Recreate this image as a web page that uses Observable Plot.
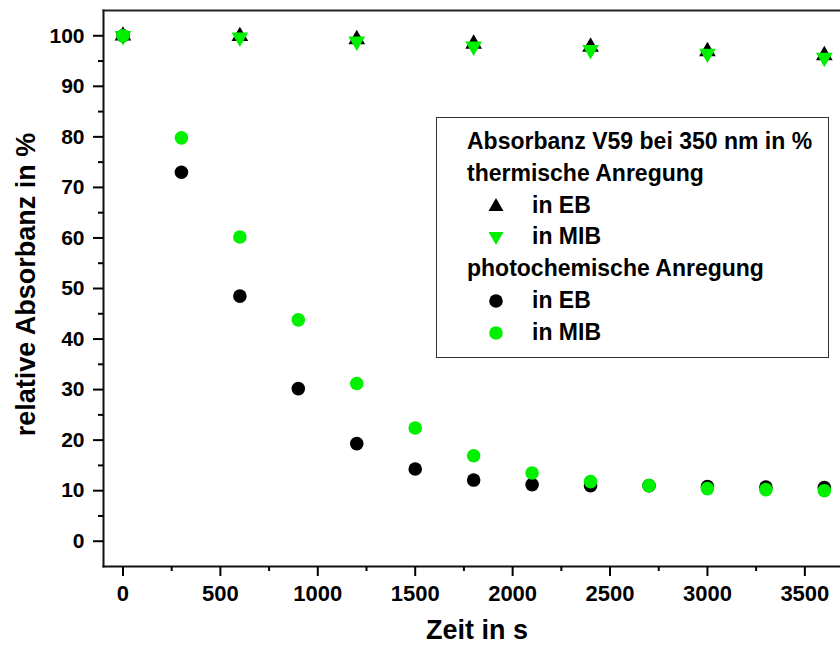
<!DOCTYPE html>
<html>
<head>
<meta charset="utf-8">
<script src="https://cdn.jsdelivr.net/npm/d3@7"></script>
<script src="https://cdn.jsdelivr.net/npm/@observablehq/plot@0.6"></script>
<style>
  html, body { margin: 0; padding: 0; background: #fff; }
  #wrap { position: relative; width: 840px; height: 651px; font-family: "Liberation Sans", Arial, sans-serif; font-weight: bold; }
  #legend { position: absolute; left: 436px; top: 117px; width: 391px; height: 231px; border: 1.5px solid #333; box-sizing: content-box; padding-top: 8px; font-size: 23px; line-height: 31.8px; color: #000; }
  #legend .row { position: relative; height: 31.8px; white-space: nowrap; }
  #legend .head { padding-left: 30px; }
  #legend .item { padding-left: 95px; }
  #legend svg { position: absolute; left: 50px; top: 7px; }
</style>
</head>
<body>
<div id="wrap"></div>
<script>
// ---- data ----
const timesThermal = [0, 600, 1200, 1800, 2400, 3000, 3600];
const thermEB  = [100, 99.9, 99.3, 98.4, 97.8, 96.9, 96.1];
const thermMIB = [100, 99.7, 98.9, 97.9, 97.2, 96.5, 95.7];
const timesPhoto = [0, 300, 600, 900, 1200, 1500, 1800, 2100, 2400, 2700, 3000, 3300, 3600];
const photoEB  = [100, 73.0, 48.5, 30.2, 19.3, 14.3, 12.1, 11.2, 11.0, 11.0, 10.8, 10.7, 10.6];
const photoMIB = [100, 79.8, 60.2, 43.8, 31.2, 22.4, 16.9, 13.5, 11.8, 11.0, 10.4, 10.2, 10.0];
const xTicks = [0, 500, 1000, 1500, 2000, 2500, 3000, 3500];
const xMinor = [250, 750, 1250, 1750, 2250, 2750, 3250];
const yTicks = [0, 10, 20, 30, 40, 50, 60, 70, 80, 90, 100];
const yMinor = [5, 15, 25, 35, 45, 55, 65, 75, 85, 95];
const legendTitle = "Absorbanz V59 bei 350 nm in %";
const legendGroups = ["thermische Anregung", "photochemische Anregung"];
const legendItems = ["in EB", "in MIB"];
const xLabel = "Zeit in s";
const yLabel = "relative Absorbanz in %";

const GREEN = "#00f000";

const rows = (t, v) => t.map((x, i) => ({x, y: v[i]}));

const triangleDown = {
  draw(context, size) {
    const y = -Math.sqrt(size / (Math.sqrt(3) * 3));
    const s3 = Math.sqrt(3);
    context.moveTo(0, -y * 2);
    context.lineTo(-s3 * y, y);
    context.lineTo(s3 * y, y);
    context.closePath();
  }
};

const chart = Plot.plot({
  width: 840,
  height: 651,
  marginLeft: 103,
  marginRight: 0,
  marginTop: 10,
  marginBottom: 85,
  style: {fontFamily: "'Liberation Sans', Arial, sans-serif", fontWeight: "bold", fontSize: "21px", color: "#000", background: "#fff"},
  x: {domain: [-100, 3683]},
  y: {domain: [-5, 105]},
  marks: [
    Plot.frame({anchor: "left", stroke: "#111", strokeWidth: 2}),
    Plot.frame({anchor: "bottom", stroke: "#111", strokeWidth: 2}),
    Plot.frame({anchor: "top", stroke: "#222", strokeWidth: 2}),
    Plot.axisY({ticks: yTicks, tickSize: 10, tickPadding: 9, strokeWidth: 2, label: null, fontSize: 21, tickFormat: d => String(d)}),
    Plot.axisY({ticks: yMinor, tickSize: 5, strokeWidth: 2, label: null, tickFormat: () => ""}),
    Plot.axisX({ticks: xTicks, tickSize: 10, tickPadding: 9, strokeWidth: 2, label: null, fontSize: 22, tickFormat: d => String(d)}),
    Plot.axisX({ticks: xMinor, tickSize: 5, strokeWidth: 2, label: null, tickFormat: () => ""}),
    Plot.dot(rows(timesThermal, thermEB), {x: "x", y: "y", symbol: "triangle", r: 6.2, fill: "#000"}),
    Plot.dot(rows(timesThermal, thermMIB), {x: "x", y: "y", symbol: triangleDown, r: 6.2, fill: GREEN}),
    Plot.dot(rows(timesPhoto, photoEB), {x: "x", y: "y", symbol: "circle", r: 6.8, fill: "#000"}),
    Plot.dot(rows(timesPhoto, photoMIB), {x: "x", y: "y", symbol: "circle", r: 6.8, fill: GREEN}),
    Plot.text([xLabel], {frameAnchor: "bottom", textAnchor: "middle", dx: 5, dy: 72, fontSize: 27, fontWeight: "bold"}),
    Plot.text([yLabel], {frameAnchor: "left", textAnchor: "middle", dx: -77, dy: -4, rotate: -90, fontSize: 27, fontWeight: "bold"})
  ]
});

const wrap = document.getElementById("wrap");
wrap.appendChild(chart);

// legend (HTML overlay)
const leg = document.createElement("div");
leg.id = "legend";
const sym = {
  up: '<svg width="18" height="18" viewBox="-9 -9 18 18"><path d="M0,-8L7.5,5L-7.5,5Z" fill="#000"/></svg>',
  down: '<svg width="18" height="18" viewBox="-9 -9 18 18"><path d="M0,8L7.5,-5L-7.5,-5Z" fill="' + GREEN + '"/></svg>',
  cb: '<svg width="18" height="18" viewBox="-9 -9 18 18"><circle r="6.8" fill="#000"/></svg>',
  cg: '<svg width="18" height="18" viewBox="-9 -9 18 18"><circle r="6.8" fill="' + GREEN + '"/></svg>'
};
const lines = [
  ["head", legendTitle, null],
  ["head", legendGroups[0], null],
  ["item", legendItems[0], sym.up],
  ["item", legendItems[1], sym.down],
  ["head", legendGroups[1], null],
  ["item", legendItems[0], sym.cb],
  ["item", legendItems[1], sym.cg]
];
for (const [cls, txt, s] of lines) {
  const r = document.createElement("div");
  r.className = "row " + cls;
  r.textContent = txt;
  if (s) r.insertAdjacentHTML("afterbegin", s);
  leg.appendChild(r);
}
wrap.appendChild(leg);
</script>
</body>
</html>
